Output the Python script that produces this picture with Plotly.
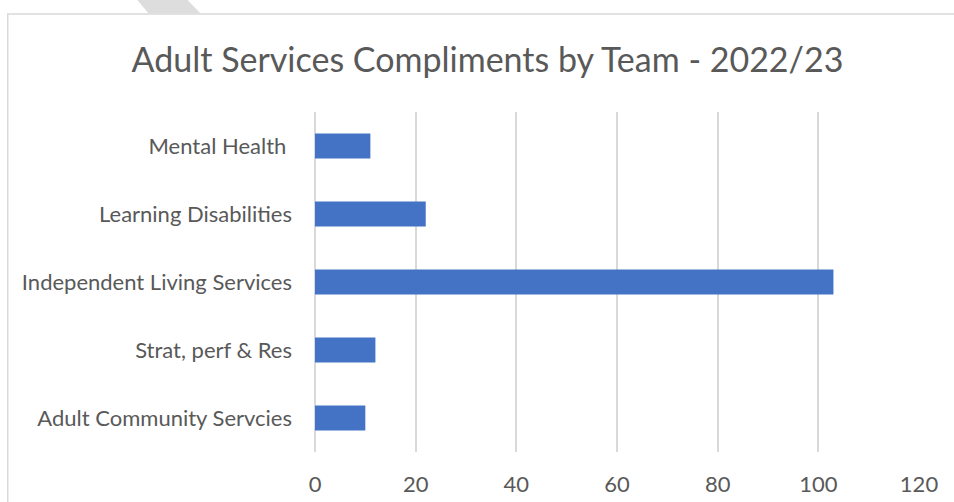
import plotly.graph_objects as go

categories = ["Adult Community Servcies", "Strat, perf & Res", "Independent Living Services",
              "Learning Disabilities", "Mental Health "]
values = [10, 12, 103, 22, 11]
x_ticks = [0, 20, 40, 60, 80, 100, 120]

W, H = 954, 502
L, R, T, B = 314.5, 919, 112, 452  # plot area in px


def px(x):
    return (x - L) / (R - L)


def py(y):
    return (B - y) / (B - T)


fig = go.Figure(go.Bar(
    y=categories, x=values, orientation="h",
    marker=dict(color="#4472C4", line=dict(width=0)),
))

grid = "#D9D9D9"
fig.update_layout(
    width=W, height=H,
    margin=dict(l=L, r=W - R, t=T, b=H - B),
    paper_bgcolor="white", plot_bgcolor="white",
    bargap=0.632,
    showlegend=False,
    font=dict(family="Lato, Open Sans, sans-serif", color="#595959", size=22),
    title=dict(text="Adult Services Compliments by Team - 2022/23",
               x=487.5 / W, xanchor="center", xref="container",
               y=1 - 60 / H, yanchor="middle", yref="container",
               font=dict(size=34, color="#595959", family="Lato, Open Sans, sans-serif")),
    xaxis=dict(range=[0, 120], tickvals=x_ticks, showgrid=True, gridcolor=grid, gridwidth=1.5,
               zeroline=True, zerolinecolor=grid, zerolinewidth=1.5, showline=False,
               automargin=False,
               ticks="", ticklabelstandoff=17, tickfont=dict(size=22, color="#595959")),
    yaxis=dict(showgrid=False, zeroline=False, showline=False, ticks="", automargin=False,
               ticklabelstandoff=22, tickfont=dict(size=22, color="#595959")),
    shapes=[
        dict(type="rect", xref="paper", yref="paper",
             x0=px(7), x1=px(970), y0=py(520), y1=py(14),
             line=dict(color=grid, width=1.5), fillcolor="rgba(0,0,0,0)", layer="below"),
        dict(type="path", xref="paper", yref="paper",
             path=f"M {px(135)},{py(-2)} L {px(185)},{py(-2)} L {px(200)},{py(13.5)} L {px(148)},{py(13.5)} Z",
             fillcolor="#DDDDDD", line=dict(width=0), layer="above"),
    ],
)

fig.write_html("out.html", config={"displayModeBar": False},
               post_script="document.body.style.margin='0';document.body.style.overflow='hidden';")
